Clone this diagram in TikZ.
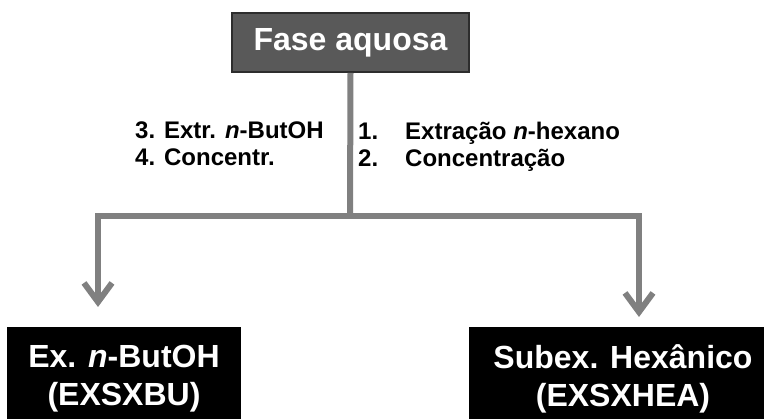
\documentclass[tikz,border=0pt]{standalone}
\usepackage{fontspec}
\setmainfont{Liberation Sans}
\usepackage{xcolor}
\usepackage{tikz}
\usetikzlibrary{positioning,arrows.meta}
\definecolor{dHead}{RGB}{89,89,89}
\definecolor{dEdge}{RGB}{45,45,45}
\definecolor{dLine}{RGB}{128,128,128}
\tikzset{
  head/.style={rectangle, draw=dEdge, line width=2pt, fill=dHead, text=white,
               minimum width=237pt, minimum height=59pt, inner sep=0pt,
               font=\fontsize{32}{38}\selectfont\bfseries},
  prod/.style={rectangle, fill=black, text=white, align=center, inner sep=0pt,
               minimum height=104pt, font=\fontsize{32}{38}\selectfont\bfseries},
  flow/.style={draw=dLine, line width=6pt},
  flowa/.style={flow, -{Straight Barb[length=19pt,width=28pt,line width=6pt]}},
  lbl/.style={font=\fontsize{24}{26.5}\selectfont\bfseries, align=left, inner sep=0pt},
}

\begin{document}
\begin{tikzpicture}[x=1pt, y=1pt]
  \useasboundingbox (0,0) rectangle (764,419);
  \node[head] (fase) at (350.5,376.5) {Fase aquosa};
  \node[prod, minimum width=234pt] (bu)  at (124,40) {Ex. \textit{n}-ButOH\\(EXSXBU)};
  \node[prod, minimum width=308pt] (hex) at (623,40) {Subex. Hexânico\\(EXSXHEA)};
  \coordinate (split) at (350,203);
  \coordinate (lcorner) at (98,203);
  \coordinate (rcorner) at (642,203);
  \coordinate (rtop) at (639,200);
  \coordinate (ltip) at (98,112);
  \coordinate (rtip) at (639,102);
  \draw[flow] (fase.south) -- (split);
  \draw[flowa] (rcorner) -- (lcorner) -- (ltip);
  \draw[flowa] (rtop) -- (rtip);
  \node[lbl, anchor=north west] (left)  at (135,297) {3. Extr. \textit{n}-ButOH\\4. Concentr.};
  \node[lbl, anchor=north west] (right) at (358,297)
    {\makebox[47pt][l]{1.}Extração \textit{n}-hexano\\\makebox[47pt][l]{2.}Concentração};
\end{tikzpicture}
\end{document}
